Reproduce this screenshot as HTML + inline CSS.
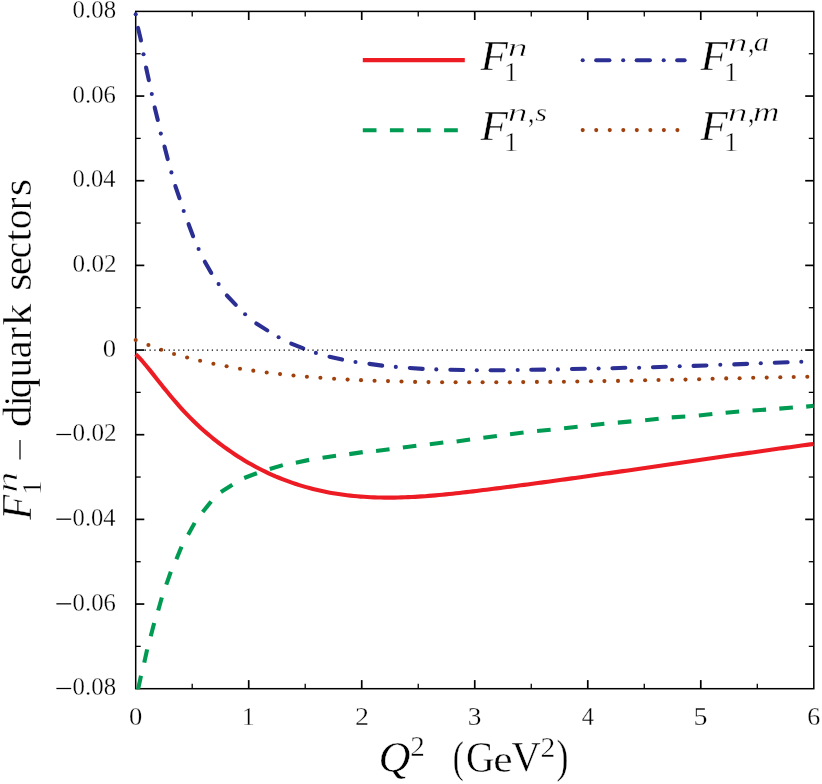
<!DOCTYPE html>
<html><head><meta charset="utf-8"><title>F1n diquark sectors</title>
<style>html,body{margin:0;padding:0;background:#fff}svg{display:block}text{font-family:"Liberation Serif",serif}</style>
</head><body>
<svg width="822" height="784" viewBox="0 0 822 784" role="img" aria-label="F1n diquark sectors versus Q squared">
<rect width="822" height="784" fill="#fff"/>
<rect x="135.7" y="11.4" width="678.1" height="677.3" fill="none" stroke="#000" stroke-width="1.5"/>
<g stroke="#000">
<line x1="192.21" y1="11.4" x2="192.21" y2="16.4" stroke-width="1.3"/>
<line x1="192.21" y1="688.7" x2="192.21" y2="683.7" stroke-width="1.3"/>
<line x1="248.72" y1="11.4" x2="248.72" y2="20.0" stroke-width="1.7"/>
<line x1="248.72" y1="688.7" x2="248.72" y2="680.1" stroke-width="1.7"/>
<line x1="305.22" y1="11.4" x2="305.22" y2="16.4" stroke-width="1.3"/>
<line x1="305.22" y1="688.7" x2="305.22" y2="683.7" stroke-width="1.3"/>
<line x1="361.73" y1="11.4" x2="361.73" y2="20.0" stroke-width="1.7"/>
<line x1="361.73" y1="688.7" x2="361.73" y2="680.1" stroke-width="1.7"/>
<line x1="418.24" y1="11.4" x2="418.24" y2="16.4" stroke-width="1.3"/>
<line x1="418.24" y1="688.7" x2="418.24" y2="683.7" stroke-width="1.3"/>
<line x1="474.75" y1="11.4" x2="474.75" y2="20.0" stroke-width="1.7"/>
<line x1="474.75" y1="688.7" x2="474.75" y2="680.1" stroke-width="1.7"/>
<line x1="531.26" y1="11.4" x2="531.26" y2="16.4" stroke-width="1.3"/>
<line x1="531.26" y1="688.7" x2="531.26" y2="683.7" stroke-width="1.3"/>
<line x1="587.77" y1="11.4" x2="587.77" y2="20.0" stroke-width="1.7"/>
<line x1="587.77" y1="688.7" x2="587.77" y2="680.1" stroke-width="1.7"/>
<line x1="644.27" y1="11.4" x2="644.27" y2="16.4" stroke-width="1.3"/>
<line x1="644.27" y1="688.7" x2="644.27" y2="683.7" stroke-width="1.3"/>
<line x1="700.78" y1="11.4" x2="700.78" y2="20.0" stroke-width="1.7"/>
<line x1="700.78" y1="688.7" x2="700.78" y2="680.1" stroke-width="1.7"/>
<line x1="757.29" y1="11.4" x2="757.29" y2="16.4" stroke-width="1.3"/>
<line x1="757.29" y1="688.7" x2="757.29" y2="683.7" stroke-width="1.3"/>
<line x1="135.7" y1="646.37" x2="140.7" y2="646.37" stroke-width="1.3"/>
<line x1="813.8" y1="646.37" x2="808.8" y2="646.37" stroke-width="1.3"/>
<line x1="135.7" y1="604.04" x2="144.29999999999998" y2="604.04" stroke-width="1.7"/>
<line x1="813.8" y1="604.04" x2="805.1999999999999" y2="604.04" stroke-width="1.7"/>
<line x1="135.7" y1="561.71" x2="140.7" y2="561.71" stroke-width="1.3"/>
<line x1="813.8" y1="561.71" x2="808.8" y2="561.71" stroke-width="1.3"/>
<line x1="135.7" y1="519.38" x2="144.29999999999998" y2="519.38" stroke-width="1.7"/>
<line x1="813.8" y1="519.38" x2="805.1999999999999" y2="519.38" stroke-width="1.7"/>
<line x1="135.7" y1="477.04" x2="140.7" y2="477.04" stroke-width="1.3"/>
<line x1="813.8" y1="477.04" x2="808.8" y2="477.04" stroke-width="1.3"/>
<line x1="135.7" y1="434.71" x2="144.29999999999998" y2="434.71" stroke-width="1.7"/>
<line x1="813.8" y1="434.71" x2="805.1999999999999" y2="434.71" stroke-width="1.7"/>
<line x1="135.7" y1="392.38" x2="140.7" y2="392.38" stroke-width="1.3"/>
<line x1="813.8" y1="392.38" x2="808.8" y2="392.38" stroke-width="1.3"/>
<line x1="135.7" y1="350.05" x2="144.29999999999998" y2="350.05" stroke-width="1.7"/>
<line x1="813.8" y1="350.05" x2="805.1999999999999" y2="350.05" stroke-width="1.7"/>
<line x1="135.7" y1="307.72" x2="140.7" y2="307.72" stroke-width="1.3"/>
<line x1="813.8" y1="307.72" x2="808.8" y2="307.72" stroke-width="1.3"/>
<line x1="135.7" y1="265.39" x2="144.29999999999998" y2="265.39" stroke-width="1.7"/>
<line x1="813.8" y1="265.39" x2="805.1999999999999" y2="265.39" stroke-width="1.7"/>
<line x1="135.7" y1="223.06" x2="140.7" y2="223.06" stroke-width="1.3"/>
<line x1="813.8" y1="223.06" x2="808.8" y2="223.06" stroke-width="1.3"/>
<line x1="135.7" y1="180.73" x2="144.29999999999998" y2="180.73" stroke-width="1.7"/>
<line x1="813.8" y1="180.73" x2="805.1999999999999" y2="180.73" stroke-width="1.7"/>
<line x1="135.7" y1="138.39" x2="140.7" y2="138.39" stroke-width="1.3"/>
<line x1="813.8" y1="138.39" x2="808.8" y2="138.39" stroke-width="1.3"/>
<line x1="135.7" y1="96.06" x2="144.29999999999998" y2="96.06" stroke-width="1.7"/>
<line x1="813.8" y1="96.06" x2="805.1999999999999" y2="96.06" stroke-width="1.7"/>
<line x1="135.7" y1="53.73" x2="140.7" y2="53.73" stroke-width="1.3"/>
<line x1="813.8" y1="53.73" x2="808.8" y2="53.73" stroke-width="1.3"/>
</g>
<clipPath id="cp"><rect x="134.7" y="11.4" width="679.9" height="678.1"/></clipPath>
<g stroke="#009B52" stroke-width="4.1" fill="none" clip-path="url(#cp)">
<line x1="138.0" y1="689.6" x2="141.0" y2="675.7"/>
<line x1="144.25" y1="662.64" x2="147.15" y2="649.36"/>
<line x1="150.73" y1="636.18" x2="154.17" y2="623.02"/>
<line x1="158.16" y1="610.55" x2="161.84" y2="597.45"/>
<line x1="166.28" y1="584.56" x2="170.82" y2="571.74"/>
<line x1="176.40" y1="559.25" x2="181.50" y2="546.65"/>
<line x1="188.14" y1="534.82" x2="194.66" y2="522.88"/>
<line x1="202.66" y1="512.07" x2="211.14" y2="501.43"/>
<line x1="220.91" y1="492.05" x2="232.39" y2="484.75"/>
<line x1="244.19" y1="477.99" x2="256.91" y2="473.21"/>
<line x1="269.78" y1="468.97" x2="282.82" y2="465.13"/>
<line x1="295.85" y1="462.68" x2="309.15" y2="459.87"/>
<line x1="322.57" y1="457.70" x2="336.03" y2="455.80"/>
<line x1="349.27" y1="454.10" x2="362.73" y2="452.10"/>
<line x1="376.05" y1="450.91" x2="389.55" y2="449.19"/>
<line x1="402.85" y1="447.51" x2="416.35" y2="445.79"/>
<line x1="429.81" y1="444.34" x2="443.29" y2="442.56"/>
<line x1="456.62" y1="441.44" x2="470.08" y2="439.46"/>
<line x1="483.35" y1="437.71" x2="496.85" y2="435.99"/>
<line x1="510.05" y1="434.31" x2="523.55" y2="432.59"/>
<line x1="537.08" y1="431.08" x2="550.62" y2="429.72"/>
<line x1="564.09" y1="428.21" x2="577.61" y2="426.79"/>
<line x1="590.84" y1="425.31" x2="604.36" y2="423.79"/>
<line x1="617.83" y1="422.61" x2="631.37" y2="421.39"/>
<line x1="645.14" y1="420.21" x2="658.66" y2="418.69"/>
<line x1="671.72" y1="417.41" x2="685.28" y2="416.49"/>
<line x1="698.84" y1="415.52" x2="712.36" y2="414.08"/>
<line x1="725.63" y1="412.70" x2="739.17" y2="411.50"/>
<line x1="752.52" y1="410.51" x2="766.08" y2="409.59"/>
<line x1="779.32" y1="408.62" x2="792.88" y2="407.58"/>
<line x1="806.2" y1="406.6" x2="813.7" y2="405.8"/>
</g>
<path d="M135.8 354.30 L139.2 357.74 L142.6 361.48 L146.0 365.46 L149.4 369.62 L152.8 373.89 L156.2 378.23 L159.6 382.55 L163.0 386.83 L166.5 391.04 L169.9 395.20 L173.3 399.25 L176.7 403.20 L180.1 407.04 L183.5 410.76 L186.9 414.37 L190.3 417.87 L193.7 421.25 L197.1 424.51 L200.5 427.67 L203.9 430.72 L207.3 433.67 L210.7 436.53 L214.1 439.29 L217.5 441.98 L221.0 444.58 L224.4 447.10 L227.8 449.54 L231.2 451.91 L234.6 454.21 L238.0 456.43 L241.4 458.57 L244.8 460.65 L248.2 462.65 L251.6 464.59 L255.0 466.46 L258.4 468.26 L261.8 470.00 L265.2 471.67 L268.6 473.28 L272.0 474.83 L275.4 476.32 L278.9 477.74 L282.3 479.11 L285.7 480.43 L289.1 481.68 L292.5 482.88 L295.9 484.02 L299.3 485.11 L302.7 486.15 L306.1 487.14 L309.5 488.07 L312.9 488.95 L316.3 489.79 L319.7 490.57 L323.1 491.31 L326.5 492.01 L329.9 492.65 L333.3 493.26 L336.8 493.81 L340.2 494.33 L343.6 494.81 L347.0 495.24 L350.4 495.63 L353.8 495.99 L357.2 496.31 L360.6 496.59 L364.0 496.83 L367.4 497.04 L370.8 497.22 L374.2 497.36 L377.6 497.47 L381.0 497.55 L384.4 497.60 L387.8 497.62 L391.3 497.61 L394.7 497.58 L398.1 497.51 L401.5 497.42 L404.9 497.31 L408.3 497.17 L411.7 497.02 L415.1 496.83 L418.5 496.63 L421.9 496.41 L425.3 496.17 L428.7 495.91 L432.1 495.63 L435.5 495.34 L438.9 495.04 L442.3 494.71 L445.7 494.38 L449.2 494.03 L452.6 493.67 L456.0 493.31 L459.4 492.93 L462.8 492.54 L466.2 492.15 L469.6 491.75 L473.0 491.34 L476.4 490.93 L479.8 490.51 L483.2 490.09 L486.6 489.67 L490.0 489.25 L493.4 488.82 L496.8 488.40 L500.2 487.96 L503.7 487.53 L507.1 487.09 L510.5 486.65 L513.9 486.21 L517.3 485.77 L520.7 485.32 L524.1 484.88 L527.5 484.43 L530.9 483.97 L534.3 483.52 L537.7 483.06 L541.1 482.61 L544.5 482.15 L547.9 481.68 L551.3 481.22 L554.7 480.75 L558.1 480.29 L561.6 479.82 L565.0 479.35 L568.4 478.87 L571.8 478.40 L575.2 477.93 L578.6 477.45 L582.0 476.97 L585.4 476.49 L588.8 476.01 L592.2 475.53 L595.6 475.05 L599.0 474.56 L602.4 474.08 L605.8 473.59 L609.2 473.10 L612.6 472.62 L616.1 472.13 L619.5 471.64 L622.9 471.15 L626.3 470.66 L629.7 470.16 L633.1 469.67 L636.5 469.18 L639.9 468.68 L643.3 468.19 L646.7 467.69 L650.1 467.20 L653.5 466.70 L656.9 466.21 L660.3 465.71 L663.7 465.22 L667.1 464.72 L670.5 464.22 L674.0 463.73 L677.4 463.23 L680.8 462.73 L684.2 462.24 L687.6 461.74 L691.0 461.25 L694.4 460.75 L697.8 460.25 L701.2 459.76 L704.6 459.26 L708.0 458.77 L711.4 458.28 L714.8 457.78 L718.2 457.29 L721.6 456.80 L725.0 456.31 L728.4 455.82 L731.9 455.33 L735.3 454.84 L738.7 454.35 L742.1 453.86 L745.5 453.38 L748.9 452.89 L752.3 452.41 L755.7 451.93 L759.1 451.44 L762.5 450.96 L765.9 450.48 L769.3 450.01 L772.7 449.53 L776.1 449.06 L779.5 448.58 L782.9 448.11 L786.4 447.64 L789.8 447.17 L793.2 446.70 L796.6 446.24 L800.0 445.77 L803.4 445.31 L806.8 444.85 L810.2 444.40 L813.6 443.94" stroke="#ED1C24" stroke-width="4.1" fill="none" stroke-linejoin="round"/>
<g fill="#A0410D">
<circle cx="135.7" cy="340" r="2.05"/>
<circle cx="148.4" cy="345" r="2.05"/>
<circle cx="161.2" cy="349.7" r="2.05"/>
<circle cx="174.05" cy="354" r="2.05"/>
<circle cx="187.1" cy="357.5" r="2.05"/>
<circle cx="200.1" cy="360.8" r="2.05"/>
<circle cx="213.4" cy="363.7" r="2.05"/>
<circle cx="226.6" cy="366.3" r="2.05"/>
<circle cx="240" cy="368.7" r="2.05"/>
<circle cx="253.3" cy="370.65" r="2.05"/>
<circle cx="266.7" cy="372.45" r="2.05"/>
<circle cx="280.05" cy="374.1" r="2.05"/>
<circle cx="293.5" cy="375.5" r="2.05"/>
<circle cx="306.9" cy="376.7" r="2.05"/>
<circle cx="320.4" cy="377.8" r="2.05"/>
<circle cx="334.1" cy="378.8" r="2.05"/>
<circle cx="347.6" cy="379.6" r="2.05"/>
<circle cx="361" cy="380.15" r="2.05"/>
<circle cx="374.55" cy="380.75" r="2.05"/>
<circle cx="388" cy="381.1" r="2.05"/>
<circle cx="401.5" cy="381.5" r="2.05"/>
<circle cx="415.1" cy="381.9" r="2.05"/>
<circle cx="428.5" cy="382.1" r="2.05"/>
<circle cx="442.1" cy="382.3" r="2.05"/>
<circle cx="455.6" cy="382.3" r="2.05"/>
<circle cx="469.2" cy="382.3" r="2.05"/>
<circle cx="482.6" cy="382.3" r="2.05"/>
<circle cx="496.3" cy="382.3" r="2.05"/>
<circle cx="509.85" cy="382.3" r="2.05"/>
<circle cx="523.2" cy="382.1" r="2.05"/>
<circle cx="536.9" cy="381.9" r="2.05"/>
<circle cx="550.3" cy="381.9" r="2.05"/>
<circle cx="563.9" cy="381.7" r="2.05"/>
<circle cx="577.3" cy="381.5" r="2.05"/>
<circle cx="591" cy="381.3" r="2.05"/>
<circle cx="604.4" cy="381.1" r="2.05"/>
<circle cx="618" cy="380.9" r="2.05"/>
<circle cx="631.5" cy="380.7" r="2.05"/>
<circle cx="645.1" cy="380.3" r="2.05"/>
<circle cx="658.5" cy="380" r="2.05"/>
<circle cx="672.1" cy="379.8" r="2.05"/>
<circle cx="685.5" cy="379.6" r="2.05"/>
<circle cx="699.1" cy="379.2" r="2.05"/>
<circle cx="712.6" cy="378.8" r="2.05"/>
<circle cx="726.2" cy="378.4" r="2.05"/>
<circle cx="739.6" cy="378.2" r="2.05"/>
<circle cx="753.2" cy="377.8" r="2.05"/>
<circle cx="766.7" cy="377.6" r="2.05"/>
<circle cx="780.3" cy="377.2" r="2.05"/>
<circle cx="793.7" cy="377" r="2.05"/>
<circle cx="807.3" cy="376.8" r="2.05"/>
</g>
<g fill="#2B2E93" stroke="#2B2E93" stroke-width="4.1" stroke-linecap="round">
<circle cx="135.7" cy="14.2" r="2.05" stroke="none"/>
<circle cx="143.5" cy="54.2" r="2.05" stroke="none"/>
<circle cx="151.8" cy="94.0" r="2.05" stroke="none"/>
<circle cx="160.8" cy="133.6" r="2.05" stroke="none"/>
<circle cx="171.4" cy="172.4" r="2.05" stroke="none"/>
<circle cx="183.7" cy="211" r="2.05" stroke="none"/>
<circle cx="198.6" cy="249" r="2.05" stroke="none"/>
<circle cx="218.6" cy="284.1" r="2.05" stroke="none"/>
<circle cx="245.1" cy="314.3" r="2.05" stroke="none"/>
<circle cx="278.6" cy="337.3" r="2.05" stroke="none"/>
<circle cx="315.9" cy="352.9" r="2.05" stroke="none"/>
<circle cx="355.5" cy="362" r="2.05" stroke="none"/>
<circle cx="395.8" cy="366.9" r="2.05" stroke="none"/>
<circle cx="436.3" cy="369.4" r="2.05" stroke="none"/>
<circle cx="476.8" cy="370.2" r="2.05" stroke="none"/>
<circle cx="517.7" cy="370.0" r="2.05" stroke="none"/>
<circle cx="557.9" cy="369.4" r="2.05" stroke="none"/>
<circle cx="598.6" cy="368.5" r="2.05" stroke="none"/>
<circle cx="639.1" cy="367.7" r="2.05" stroke="none"/>
<circle cx="679.7" cy="366.3" r="2.05" stroke="none"/>
<circle cx="720.3" cy="364.8" r="2.05" stroke="none"/>
<circle cx="760.8" cy="363.2" r="2.05" stroke="none"/>
<circle cx="801.3" cy="361.8" r="2.05" stroke="none"/>
<line x1="138.01" y1="27.87" x2="140.99" y2="40.43"/>
<line x1="146.06" y1="67.55" x2="148.84" y2="80.15"/>
<line x1="154.70" y1="107.39" x2="157.80" y2="119.91"/>
<line x1="164.49" y1="146.55" x2="167.71" y2="159.05"/>
<line x1="175.36" y1="186.05" x2="179.54" y2="198.25"/>
<line x1="188.59" y1="224.16" x2="193.11" y2="236.24"/>
<line x1="204.83" y1="261.76" x2="211.27" y2="272.94"/>
<line x1="226.90" y1="295.53" x2="235.80" y2="304.87"/>
<line x1="256.34" y1="323.52" x2="267.26" y2="330.38"/>
<line x1="291.25" y1="343.68" x2="303.25" y2="348.42"/>
<line x1="329.51" y1="356.72" x2="342.09" y2="359.58"/>
<line x1="369.41" y1="363.88" x2="382.19" y2="365.62"/>
<line x1="409.82" y1="367.94" x2="422.68" y2="368.86"/>
<line x1="450.35" y1="369.81" x2="463.25" y2="369.99"/>
<line x1="490.65" y1="370.20" x2="503.55" y2="370.20"/>
<line x1="531.25" y1="369.79" x2="544.15" y2="369.61"/>
<line x1="571.95" y1="369.03" x2="584.85" y2="368.72"/>
<line x1="612.46" y1="368.26" x2="625.34" y2="367.74"/>
<line x1="652.96" y1="367.26" x2="665.84" y2="366.74"/>
<line x1="693.55" y1="365.87" x2="706.45" y2="365.43"/>
<line x1="734.26" y1="364.36" x2="747.14" y2="363.84"/>
<line x1="774.76" y1="362.76" x2="787.64" y2="362.24"/>
</g>
<line x1="144.7" y1="350.05" x2="805" y2="350.05" stroke="#000" stroke-width="1.35" stroke-dasharray="1.3 3.49"/>
<g font-family="Liberation Serif, serif" fill="#000" opacity="0.999">
<text transform="translate(129.03 724.75) scale(1.0667 0.9910)" font-size="25" stroke="#fff" stroke-width="0.3">0</text>
<text transform="translate(242.21 724.60) scale(0.9829 0.9818)" font-size="25" stroke="#fff" stroke-width="0.3">1</text>
<text transform="translate(355.01 725.00) scale(1.1200 1.0061)" font-size="25" stroke="#fff" stroke-width="0.3">2</text>
<text transform="translate(467.78 724.75) scale(1.0927 0.9910)" font-size="25" stroke="#fff" stroke-width="0.3">3</text>
<text transform="translate(581.68 725.00) scale(0.9739 1.0061)" font-size="25" stroke="#fff" stroke-width="0.3">4</text>
<text transform="translate(693.50 724.75) scale(1.1200 1.0061)" font-size="25" stroke="#fff" stroke-width="0.3">5</text>
<text transform="translate(807.16 724.75) scale(1.0419 0.9910)" font-size="25" stroke="#fff" stroke-width="0.3">6</text>
<text transform="translate(72.61 18.04) scale(0.9940 1.0209)" font-size="25" stroke="#fff" stroke-width="0.3">0.08</text>
<text transform="translate(72.61 102.71) scale(0.9881 1.0209)" font-size="25" stroke="#fff" stroke-width="0.3">0.06</text>
<text transform="translate(72.62 187.37) scale(0.9822 1.0209)" font-size="25" stroke="#fff" stroke-width="0.3">0.04</text>
<text transform="translate(72.59 272.03) scale(1.0061 1.0209)" font-size="25" stroke="#fff" stroke-width="0.3">0.02</text>
<text transform="translate(102.83 356.69) scale(1.0667 1.0209)" font-size="25" stroke="#fff" stroke-width="0.3">0</text>
<text transform="translate(72.59 441.36) scale(1.0061 1.0209)" font-size="25" stroke="#fff" stroke-width="0.3">0.02</text>
<text transform="translate(72.62 526.02) scale(0.9822 1.0209)" font-size="25" stroke="#fff" stroke-width="0.3">0.04</text>
<text transform="translate(72.61 610.68) scale(0.9881 1.0209)" font-size="25" stroke="#fff" stroke-width="0.3">0.06</text>
<text transform="translate(72.61 695.34) scale(0.9940 1.0209)" font-size="25" stroke="#fff" stroke-width="0.3">0.08</text>
<text transform="translate(480.38 70.40) scale(1.1200 1.0629)" font-size="40" font-style="italic" stroke="#fff" stroke-width="0.4">F</text>
<text transform="translate(504.09 80.80) scale(1.0051 0.9676)" font-size="28" stroke="#fff" stroke-width="0.4">1</text>
<text transform="translate(507.68 55.50) scale(1.4213 0.9358)" font-size="28" font-style="italic" stroke="#fff" stroke-width="0.6">n</text>
<text transform="translate(480.38 140.40) scale(1.1200 1.0629)" font-size="40" font-style="italic" stroke="#fff" stroke-width="0.4">F</text>
<text transform="translate(504.09 150.80) scale(1.0051 0.9676)" font-size="28" stroke="#fff" stroke-width="0.4">1</text>
<text transform="translate(507.68 120.90) scale(1.4213 0.9283)" font-size="28" font-style="italic" stroke="#fff" stroke-width="0.6">n</text>
<text transform="translate(528.08 121.53) scale(0.9176 1.1000)" font-size="28" stroke="#fff" stroke-width="0.4">,</text>
<text transform="translate(535.26 120.97) scale(1.0737 0.9333)" font-size="28" font-style="italic" stroke="#fff" stroke-width="0.45">s</text>
<text transform="translate(700.38 70.40) scale(1.1200 1.0629)" font-size="40" font-style="italic" stroke="#fff" stroke-width="0.4">F</text>
<text transform="translate(724.09 80.80) scale(1.0051 0.9676)" font-size="28" stroke="#fff" stroke-width="0.4">1</text>
<text transform="translate(727.68 50.90) scale(1.4213 0.9283)" font-size="28" font-style="italic" stroke="#fff" stroke-width="0.6">n</text>
<text transform="translate(748.08 51.52) scale(0.9176 1.1000)" font-size="28" stroke="#fff" stroke-width="0.4">,</text>
<text transform="translate(753.67 51.16) scale(1.1020 0.9556)" font-size="28" font-style="italic" stroke="#fff" stroke-width="0.45">a</text>
<text transform="translate(700.38 140.40) scale(1.1200 1.0629)" font-size="40" font-style="italic" stroke="#fff" stroke-width="0.4">F</text>
<text transform="translate(724.09 150.80) scale(1.0051 0.9676)" font-size="28" stroke="#fff" stroke-width="0.4">1</text>
<text transform="translate(727.68 120.90) scale(1.4213 0.9283)" font-size="28" font-style="italic" stroke="#fff" stroke-width="0.6">n</text>
<text transform="translate(748.08 121.53) scale(0.9176 1.1000)" font-size="28" stroke="#fff" stroke-width="0.4">,</text>
<text transform="translate(752.99 121.00) scale(1.3111 0.9434)" font-size="28" font-style="italic" stroke="#fff" stroke-width="0.45">m</text>
<text transform="translate(378.41 771.51) scale(1.1077 1.1061)" font-size="40" font-style="italic" stroke="#fff" stroke-width="0.4">Q</text>
<text transform="translate(410.30 756.40) scale(1.0400 1.0162)" font-size="28" stroke="#fff" stroke-width="0.4">2</text>
<text transform="translate(452.75 771.63) scale(0.8293 1.1255)" font-size="40" stroke="#fff" stroke-width="0.4">(</text>
<text transform="translate(465.98 771.72) scale(0.9846 1.1252)" font-size="40" stroke="#fff" stroke-width="0.4">G</text>
<text transform="translate(493.36 771.76) scale(1.0915 0.9684)" font-size="40" stroke="#fff" stroke-width="0.4">e</text>
<text transform="translate(511.49 771.46) scale(1.0107 1.0729)" font-size="40" stroke="#fff" stroke-width="0.4">V</text>
<text transform="translate(540.58 756.50) scale(1.0578 1.0432)" font-size="28" stroke="#fff" stroke-width="0.4">2</text>
<text transform="translate(556.58 771.89) scale(0.8976 1.1421)" font-size="40" stroke="#fff" stroke-width="0.4">)</text>
<text transform="rotate(-90) translate(-519.64 31.00) scale(1.0200 1.0743)" font-size="40" font-style="italic" stroke="#fff" stroke-width="0.4">F</text>
<text transform="rotate(-90) translate(-492.71 16.60) scale(1.5149 1.0415)" font-size="28" font-style="italic" stroke="#fff" stroke-width="0.6">n</text>
<text transform="rotate(-90) translate(-495.12 41.10) scale(1.0462 0.9946)" font-size="28" stroke="#fff" stroke-width="0.4">1</text>
<text transform="rotate(-90) translate(-427.35 30.80) scale(1.1000 1.0180)" font-size="40" stroke="#fff" stroke-width="0.4">d</text>
<text transform="rotate(-90) translate(-405.91 30.80) scale(0.9200 1.0180)" font-size="40" stroke="#fff" stroke-width="0.4">i</text>
<text transform="rotate(-90) translate(-398.54 30.80) scale(1.0254 1.0180)" font-size="40" stroke="#fff" stroke-width="0.4">q</text>
<text transform="rotate(-90) translate(-377.59 30.80) scale(0.9707 1.0180)" font-size="40" stroke="#fff" stroke-width="0.4">u</text>
<text transform="rotate(-90) translate(-358.42 30.80) scale(1.0159 1.0180)" font-size="40" stroke="#fff" stroke-width="0.4">a</text>
<text transform="rotate(-90) translate(-339.92 30.80) scale(0.9551 1.0180)" font-size="40" stroke="#fff" stroke-width="0.4">r</text>
<text transform="rotate(-90) translate(-325.84 30.80) scale(1.1000 1.0180)" font-size="40" stroke="#fff" stroke-width="0.4">k</text>
<text transform="rotate(-90) translate(-290.81 30.80) scale(1.1000 1.0180)" font-size="40" stroke="#fff" stroke-width="0.4">s</text>
<text transform="rotate(-90) translate(-275.26 30.80) scale(1.0373 1.0180)" font-size="40" stroke="#fff" stroke-width="0.4">e</text>
<text transform="rotate(-90) translate(-258.28 30.80) scale(0.9200 1.0180)" font-size="40" stroke="#fff" stroke-width="0.4">c</text>
<text transform="rotate(-90) translate(-241.83 30.80) scale(1.1000 1.0180)" font-size="40" stroke="#fff" stroke-width="0.4">t</text>
<text transform="rotate(-90) translate(-229.28 30.80) scale(0.9882 1.0180)" font-size="40" stroke="#fff" stroke-width="0.4">o</text>
<text transform="rotate(-90) translate(-210.10 30.80) scale(0.9306 1.0180)" font-size="40" stroke="#fff" stroke-width="0.4">r</text>
<text transform="rotate(-90) translate(-195.91 30.80) scale(1.1000 1.0180)" font-size="40" stroke="#fff" stroke-width="0.4">s</text>
</g>
<line x1="56.4" y1="434.51" x2="71.2" y2="434.51" stroke="#000" stroke-width="1.25"/>
<line x1="56.4" y1="519.18" x2="71.2" y2="519.18" stroke="#000" stroke-width="1.25"/>
<line x1="56.4" y1="603.84" x2="71.2" y2="603.84" stroke="#000" stroke-width="1.25"/>
<line x1="56.4" y1="688.50" x2="71.2" y2="688.50" stroke="#000" stroke-width="1.25"/>
<line x1="20.0" y1="439.9" x2="20.0" y2="459.6" stroke="#000" stroke-width="1.2"/>
<line x1="362.8" y1="60.1" x2="464.8" y2="60.1" stroke="#ED1C24" stroke-width="4.1"/>
<line x1="362.8" y1="130.2" x2="458" y2="130.2" stroke="#009B52" stroke-width="4.1" stroke-dasharray="13.7 13.4"/>
<g fill="#2B2E93" stroke="#2B2E93" stroke-width="4.1" stroke-linecap="round">
<circle cx="582.7" cy="60.2" r="2.05" stroke="none"/>
<circle cx="623.2" cy="60.2" r="2.05" stroke="none"/>
<circle cx="663.7" cy="60.2" r="2.05" stroke="none"/>
<line x1="596.2" y1="60.2" x2="609.4" y2="60.2"/>
<line x1="636.7" y1="60.2" x2="649.9" y2="60.2"/>
<line x1="677.2" y1="60.2" x2="684.6" y2="60.2"/>
</g>
<g fill="#A0410D">
<circle cx="582.70" cy="130.1" r="2.05"/>
<circle cx="596.23" cy="130.1" r="2.05"/>
<circle cx="609.76" cy="130.1" r="2.05"/>
<circle cx="623.29" cy="130.1" r="2.05"/>
<circle cx="636.82" cy="130.1" r="2.05"/>
<circle cx="650.35" cy="130.1" r="2.05"/>
<circle cx="663.88" cy="130.1" r="2.05"/>
<circle cx="677.41" cy="130.1" r="2.05"/>
</g>
</svg>
</body></html>
